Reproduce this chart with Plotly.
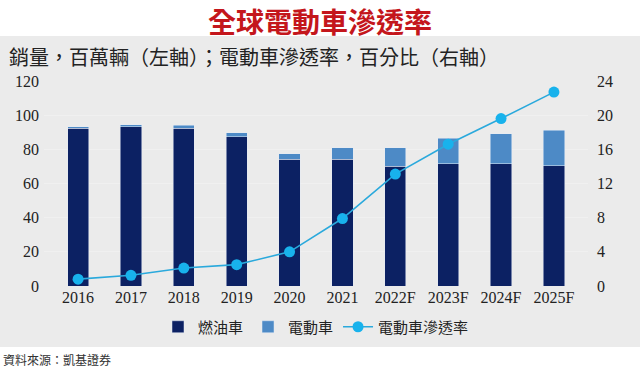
import plotly.graph_objects as go

years = ["2016", "2017", "2018", "2019", "2020", "2021", "2022F", "2023F", "2024F", "2025F"]
fuel_cars = [92.3, 93.3, 92.2, 87.3, 74.2, 74.2, 70.1, 71.5, 71.5, 70.3]
ev_cars = [0.8, 1.2, 2.0, 2.4, 3.3, 6.6, 10.7, 14.9, 17.6, 20.9]
ev_share = [0.8, 1.25, 2.1, 2.5, 4.0, 7.9, 13.1, 16.6, 19.6, 22.7]

left_ticks = [0, 20, 40, 60, 80, 100, 120]
right_ticks = [0, 4, 8, 12, 16, 20, 24]

W, H = 640, 367
L, R, T, B = 44, 52, 81, 81
pw, ph = W - L - R, H - T - B

def px(x):
    return (x - L) / pw

def py(y):
    return (H - B - y) / ph

SERIF = "Liberation Serif, Noto Sans CJK TC, serif"
CJK = "Noto Sans CJK TC, sans-serif"

fig = go.Figure()
fig.add_trace(go.Bar(x=years, y=fuel_cars, name="燃油車", marker_color="#0c2163",
                     width=0.4, yaxis="y"))
fig.add_trace(go.Bar(x=years, y=ev_cars, name="電動車", marker_color="#4d8ac6",
                     width=0.4, yaxis="y"))
fig.add_trace(go.Scatter(x=years, y=ev_share, name="電動車滲透率", yaxis="y2",
                         mode="lines+markers",
                         line=dict(color="#2aa9dc", width=1.6),
                         marker=dict(color="#18b2ec", size=11)))

fig.update_layout(
    width=W, height=H,
    margin=dict(l=L, r=R, t=T, b=B),
    paper_bgcolor="white",
    plot_bgcolor="white",
    barmode="stack",
    bargap=0.6,
    showlegend=True,
    legend=dict(orientation="h", x=0.5, xanchor="center", y=py(327), yanchor="middle",
                traceorder="normal", bgcolor="rgba(0,0,0,0)",
                font=dict(family=CJK, size=15, color="#222222"),
                itemwidth=30),
    xaxis=dict(type="category", showgrid=False, showline=False, ticks="",
               tickfont=dict(family=SERIF, size=16, color="#222222")),
    yaxis=dict(range=[0, 120], tickvals=left_ticks, showgrid=True, gridcolor="#f0f0f0",
               gridwidth=1, zeroline=False, showline=False, ticks="",
               tickfont=dict(family=SERIF, size=16, color="#222222"),
               ticklabelstandoff=4),
    yaxis2=dict(range=[0, 24], tickvals=right_ticks, overlaying="y", side="right",
                showgrid=False, zeroline=False, showline=False, ticks="",
                tickfont=dict(family=SERIF, size=16, color="#222222"),
                ticklabelstandoff=8),
    shapes=[dict(type="rect", xref="paper", yref="paper", layer="below",
                 x0=px(0), x1=px(W), y0=py(347), y1=py(36),
                 fillcolor="#ebebeb", line=dict(width=0))],
    annotations=[
        dict(text="<b>全球電動車滲透率</b>", xref="paper", yref="paper",
             x=px(320), y=py(21), xanchor="center", yanchor="middle", showarrow=False,
             font=dict(family=CJK, size=28, color="#c4161c")),
        dict(text="銷量，百萬輛（左軸）；電動車滲透率，百分比（右軸）", xref="paper", yref="paper",
             x=px(7), y=py(57), xanchor="left", yanchor="middle", showarrow=False,
             font=dict(family=CJK, size=20, color="#222222")),
        dict(text="資料來源：凱基證券", xref="paper", yref="paper",
             x=px(1), y=py(359), xanchor="left", yanchor="middle", showarrow=False,
             font=dict(family=CJK, size=12, color="#333333")),
    ],
)

fig.write_html("out.html", config={"displayModeBar": False},
               post_script="document.body.style.margin='0';document.body.style.padding='0';")
